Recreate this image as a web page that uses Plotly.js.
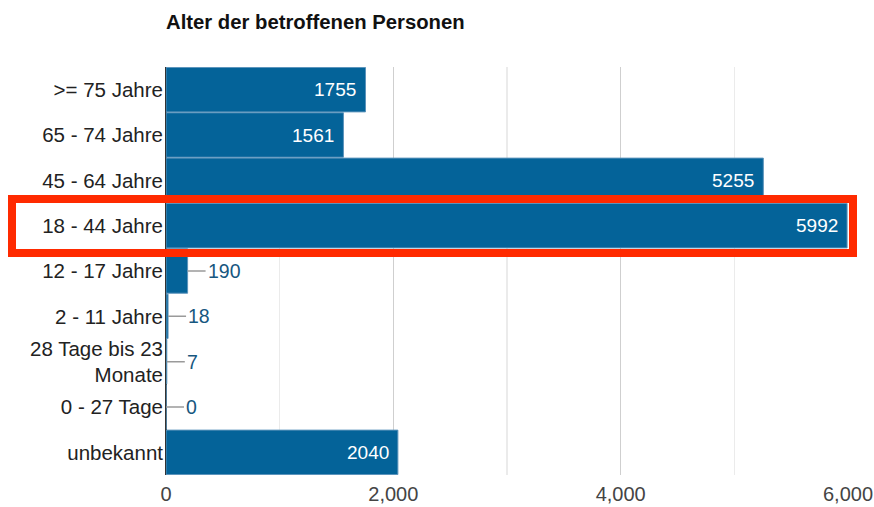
<!DOCTYPE html>
<html>
<head>
<meta charset="utf-8">
<script src="https://cdn.plot.ly/plotly-3.0.1.min.js"></script>
<style>html,body{margin:0;padding:0;background:#fff;}#chart{width:874px;height:507px;}</style>
</head>
<body>
<div id="chart"></div>
<script>
const categories = [">= 75 Jahre", "65 - 74 Jahre", "45 - 64 Jahre", "18 - 44 Jahre", "12 - 17 Jahre", "2 - 11 Jahre", "28 Tage bis 23<br>Monate", "0 - 27 Tage", "unbekannt"];
const values = [1755, 1561, 5255, 5992, 190, 18, 7, 0, 2040];
const xTickVals = [0, 2000, 4000, 6000];
const xTickText = ["0", "2,000", "4,000", "6,000"];
const highlighted = "18 - 44 Jahre";
const insideThreshold = 1000;

const FONT = "Liberation Sans, Arial, Helvetica, sans-serif";
const L = 166, R = 26, T = 67, B = 32, W = 874, H = 507;
const pw = W - L - R, ph = H - T - B;

const trace = {
  type: "bar",
  orientation: "h",
  y: categories,
  x: values,
  marker: {color: "#046399", line: {color: "#5b93bb", width: 1}},
  textposition: "none",
  cliponaxis: false,
  hoverinfo: "none"
};

const annotations = [];
values.forEach((v, i) => {
  if (v < insideThreshold) {
    annotations.push({
      x: v, y: categories[i], xref: "x", yref: "y",
      text: String(v), showarrow: true, arrowhead: 0, arrowwidth: 1.5,
      arrowcolor: "#9a9a9a", ax: 18, ay: 0, xanchor: "left", yanchor: "middle",
      standoff: 0, startstandoff: 0, borderpad: 1,
      font: {color: "#17577f", size: 19.5, family: FONT}
    });
  } else {
    annotations.push({
      x: v, y: categories[i], xref: "x", yref: "y",
      text: String(v), showarrow: false, xanchor: "right", yanchor: "middle",
      xshift: -7, font: {color: "#ffffff", size: 19, family: FONT}
    });
  }
});

function px2x(px) { return (px - L) / pw; }
function py2y(py) { return 1 - (py - T) / ph; }

const shapes = [{
  type: "rect", xref: "paper", yref: "paper",
  x0: px2x(12), x1: px2x(853), y0: py2y(253), y1: py2y(199),
  line: {color: "#ff2a00", width: 8}, fillcolor: "rgba(0,0,0,0)", layer: "above"
}];

const layout = {
  width: W, height: H,
  margin: {l: L, r: R, t: T, b: B, pad: 0},
  paper_bgcolor: "#fff", plot_bgcolor: "#fff",
  font: {family: FONT, size: 19, color: "#333"},
  title: {text: "<b>Alter der betroffenen Personen</b>", font: {family: FONT, size: 20.3, color: "#111"},
          x: 0, xref: "paper", xanchor: "left", y: 1 - 22 / H, yref: "container", yanchor: "middle"},
  showlegend: false,
  bargap: 0.02,
  xaxis: {
    range: [0, 6000], tickvals: xTickVals, ticktext: xTickText,
    showgrid: true, gridcolor: "#cfcfcf", gridwidth: 1.5,
    minor: {dtick: 1000, showgrid: true, gridcolor: "#ebebeb", gridwidth: 1.5},
    zeroline: true, zerolinecolor: "#333", zerolinewidth: 1.5,
    showline: false, ticks: "", ticklabelstandoff: 5,
    tickfont: {size: 20, color: "#444", family: FONT}, fixedrange: true
  },
  yaxis: {
    autorange: "reversed", type: "category",
    showgrid: false, zeroline: false, showline: false, ticks: "",
    ticklabelstandoff: 2,
    tickfont: {size: 20.5, color: "#222", family: FONT}, fixedrange: true
  },
  annotations: annotations,
  shapes: shapes
};

Plotly.newPlot("chart", [trace], layout, {displayModeBar: false, staticPlot: true});
</script>
</body>
</html>
